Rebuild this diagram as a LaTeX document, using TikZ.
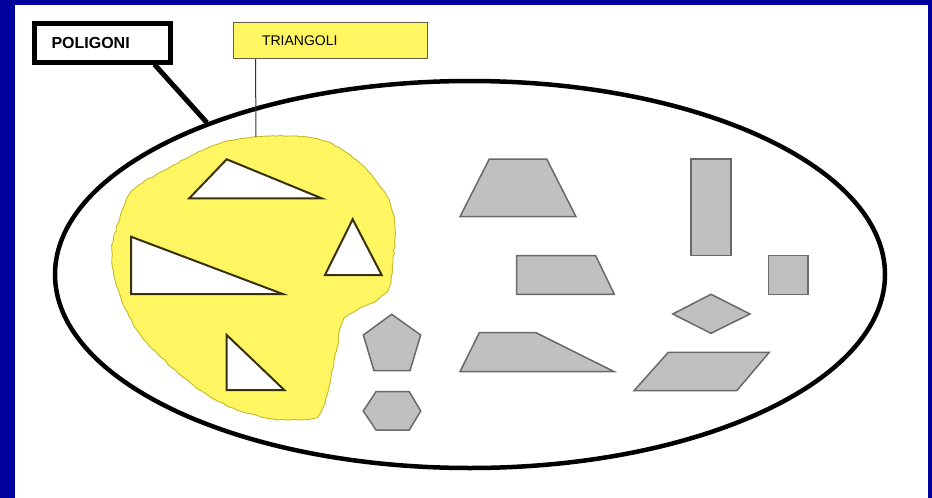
\documentclass[tikz,border=0pt]{standalone}
\usepackage{fontspec}
\setmainfont{Liberation Sans}
\usetikzlibrary{shapes.geometric,decorations.pathmorphing}

\definecolor{frameblue}{RGB}{0,0,156}
\definecolor{hiyellow}{RGB}{255,246,98}
\definecolor{bloboutline}{RGB}{196,186,40}
\definecolor{shapegray}{RGB}{192,192,192}
\definecolor{shapeedge}{RGB}{105,105,105}
\definecolor{triedge}{RGB}{55,50,10}

\tikzset{
  labelbox/.style={draw=black, line width=5pt, fill=white, align=left,
    font=\fontsize{16}{19}\selectfont\bfseries},
  notebox/.style={draw=black!70!yellow, line width=1pt, fill=hiyellow, align=left,
    font=\fontsize{14}{17}\selectfont},
  setline/.style={draw=black, line width=4.5pt},
  blob/.style={fill=hiyellow, draw=bloboutline, line width=0.9pt,
    decorate, decoration={random steps, segment length=4pt, amplitude=0.6pt}},
  trishape/.style={fill=white, draw=triedge, line width=2pt, line join=miter},
  polyshape/.style={fill=shapegray, draw=shapeedge, line width=1.5pt, line join=miter},
}

\begin{document}
\begin{tikzpicture}[x=1pt, y=-1pt]
  \pgfmathsetseed{7}
  % page: blue frame with white sheet
  \useasboundingbox (0,0) rectangle (932,498);
  \fill[frameblue] (0,0) rectangle (932,498);
  \fill[white] (15,5) rectangle (928,498);

  % the set of all polygons
  \node[ellipse, setline, minimum width=830pt, minimum height=387pt, inner sep=0pt]
    (set) at (470,274.5) {};

  % highlighted region of the triangles
  \path[blob] plot[smooth cycle, tension=0.55] coordinates {
    (253,137) (313,138) (347,153) (373,177) (390,203) (395,230) (393,263)
    (389,287) (377,300) (357,310) (343,321) (337,347) (330,383) (323,407)
    (313,418) (273,419) (233,408) (200,390) (167,363) (137,330) (117,287)
    (112,250) (120,217) (133,190) (167,169) (210,147)};
  \coordinate (blobtop) at (256,137);

  % triangles
  \draw[trishape] (226.7,159.3) -- (321.7,198.3) -- (189.3,198.3) -- cycle;
  \draw[trishape] (352.7,219.3) -- (381.7,275) -- (325,275) -- cycle;
  \draw[trishape] (131,236.7) -- (282.7,294) -- (131,294) -- cycle;
  \draw[trishape] (226.7,335) -- (284.3,390) -- (226.7,390) -- cycle;

  % other polygons
  \draw[polyshape] (391.7,314.3) -- (420.7,335) -- (410,370.7) -- (374,370.7) -- (363.3,335) -- cycle;
  \draw[polyshape] (363.3,411) -- (376,391.7) -- (409.3,391.7) -- (420.7,411) -- (409.3,430) -- (376,430) -- cycle;
  \draw[polyshape] (489.3,159) -- (546.7,159) -- (576,216.7) -- (460,216.7) -- cycle;
  \draw[polyshape] (516.7,255.7) -- (595.7,255.7) -- (614.3,294.3) -- (516.7,294.3) -- cycle;
  \draw[polyshape] (479.3,332.7) -- (536,332.7) -- (614.3,371.7) -- (460,371.7) -- cycle;
  \draw[polyshape] (691,159) rectangle (731,255.7);
  \draw[polyshape] (768.3,255.7) rectangle (808,294.3);
  \draw[polyshape] (672.7,314) -- (711,294.3) -- (750,314) -- (711,333.3) -- cycle;
  \draw[polyshape] (668.3,352.3) -- (769.3,352.3) -- (736.7,390.7) -- (634,390.7) -- cycle;

  % labels
  \node[labelbox, text width=102pt, inner xsep=17pt, minimum height=39pt, inner ysep=0pt]
    (poli) at (102.5,42.5) {POLIGONI};
  \node[notebox, text width=137pt, inner xsep=28.5pt, minimum height=36pt, inner ysep=0pt]
    (tri) at (330.5,40.5) {TRIANGOLI};

  % connectors
  \draw[line width=5pt] ([xshift=122.5pt]poli.south west) -- (set.150.4);
  \draw[line width=1pt, black!80] ([xshift=22.5pt]tri.south west) -- (blobtop);
\end{tikzpicture}
\end{document}
